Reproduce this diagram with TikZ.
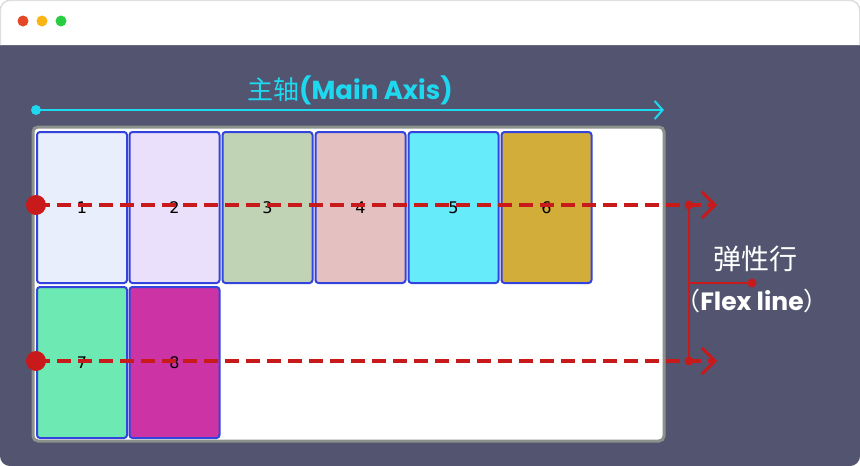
\documentclass[tikz,border=0pt]{standalone}
\usepackage{fontspec}
\setmainfont{DejaVu Sans}
\newfontfamily\cjkfont{Noto Sans CJK SC}
\newfontfamily\roundfont{Poppins}[UprightFont=* Bold]
\usetikzlibrary{arrows.meta}
\definecolor{winbody}{RGB}{83,84,112}
\definecolor{boxblue}{RGB}{51,68,221}
\definecolor{flexred}{RGB}{200,25,27}
\definecolor{axiscyan}{RGB}{30,216,240}
\definecolor{framegray}{RGB}{140,145,140}
\definecolor{lightred}{RGB}{228,70,38}
\definecolor{lightyellow}{RGB}{250,180,20}
\definecolor{lightgreen}{RGB}{40,205,65}
\tikzset{
  item/.style = {draw = boxblue, line width = 2pt, rounded corners = 3pt,
    minimum width = 90pt, minimum height = 151pt, inner sep = 0pt,
    font = \fontsize{16}{16}\selectfont},
  flexline/.style = {draw = flexred, line width = 3.5pt, dash pattern = on 14pt off 7pt,
    -{Straight Barb[length = 13pt, width = 26pt, line width = 3pt]}},
  guide/.style = {draw = flexred, line width = 1.5pt},
}
\begin{document}
\begin{tikzpicture}[x = 1pt, y = -1pt]
                \useasboundingbox (0,0) rectangle (860,466);
                % window
                \fill[winbody, rounded corners = 10pt] (0,0) rectangle (860,466);
                \fill[white] (0,45) [rounded corners = 10pt] -- (0,0) -- (860,0) [sharp corners] -- (860,45) -- cycle;
                \draw[gray!25, line width = 1pt] (0.5,45) [rounded corners = 10pt] -- (0.5,0.5) -- (859.5,0.5) [sharp corners] -- (859.5,45);
                \fill[lightred] (23,21) circle (5.5pt);
                \fill[lightyellow] (42,21) circle (5.5pt);
                \fill[lightgreen] (61,21) circle (5.5pt);
                % main axis
                \node[text = axiscyan, font = \fontsize{26}{26}\selectfont] (axis) at (350,90)
                    {\cjkfont 主轴\roundfont (Main Axis)};
                \coordinate (axis start) at (36,110);
                \coordinate (axis end) at (664,110);
                \fill[axiscyan] (axis start) circle (5pt);
                \draw[axiscyan, line width = 2pt, -{Straight Barb[length = 8pt, width = 18pt, line width = 2pt]}] (axis start) -- (axis end);
                % flex container
                \draw[framegray, line width = 3pt, fill = white, rounded corners = 5pt] (33,127) rectangle (664,441);
                \node[item, fill = {rgb,255:red,232;green,238;blue,251}] (b1) at (82,207.5) {1};
                \node[item, fill = {rgb,255:red,235;green,224;blue,251}] (b2) at (174.5,207.5) {2};
                \node[item, fill = {rgb,255:red,192;green,211;blue,181}] (b3) at (267.5,207.5) {3};
                \node[item, fill = {rgb,255:red,229;green,192;blue,192}] (b4) at (360.5,207.5) {4};
                \node[item, fill = {rgb,255:red,102;green,235;blue,251}] (b5) at (453.5,207.5) {5};
                \node[item, fill = {rgb,255:red,211;green,173;blue,58}] (b6) at (546.5,207.5) {6};
                \node[item, fill = {rgb,255:red,109;green,234;blue,179}] (b7) at (82,362.5) {7};
                \node[item, fill = {rgb,255:red,204;green,51;blue,165}] (b8) at (174.5,362.5) {8};
                % flex lines
                \coordinate (row1 start) at (36,205);
                \coordinate (row1 end) at (717,205);
                \coordinate (row2 start) at (36,361);
                \coordinate (row2 end) at (717,361);
                \coordinate (row1 mark) at (689,205);
                \coordinate (row2 mark) at (689,361);
                \draw[flexline] (row1 start) -- (row1 end);
                \draw[flexline] (row2 start) -- (row2 end);
                \fill[flexred] (row1 start) circle (10pt);
                \fill[flexred] (row2 start) circle (10pt);
                \fill[flexred] (row1 mark) circle (4.5pt);
                \fill[flexred] (row2 mark) circle (4.5pt);
                \draw[guide] (row1 mark) -- (row2 mark);
                \coordinate (mid mark) at (689,283);
                \coordinate (label mark) at (752,283);
                \draw[guide] (mid mark) -- (label mark);
                \fill[flexred] (label mark) circle (4.5pt);
                \node[text = white, font = \fontsize{28}{28}\selectfont\cjkfont] (flex cn) at (755,259) {弹性行};
                \node[text = white, font = \fontsize{25}{25}\selectfont] (flex en) at (752,301)
                    {\cjkfont （\roundfont Flex line\cjkfont ）};
            \end{tikzpicture}
\end{document}
